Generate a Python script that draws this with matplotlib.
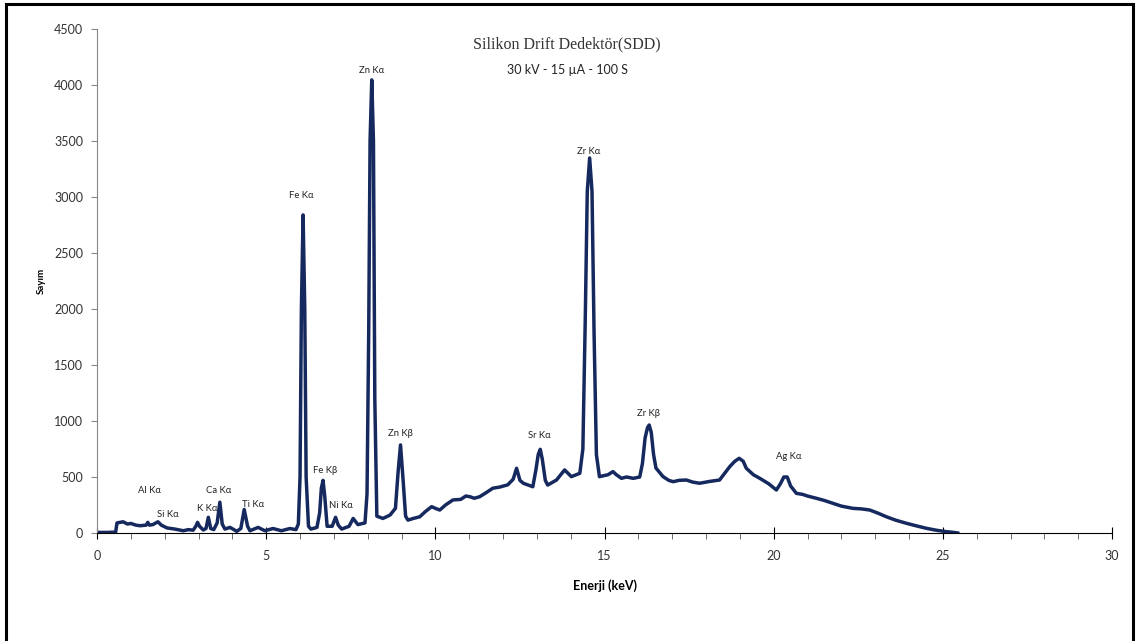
import matplotlib.pyplot as plt
from matplotlib.patches import Rectangle
from matplotlib.ticker import MultipleLocator

# spectrum: energy (keV) and counts, ten values per row
energy = [0.0, 0.3, 0.55, 0.59, 0.77, 0.9, 1.0, 1.15, 1.27, 1.45,
          1.5, 1.55, 1.65, 1.8, 1.9, 2.07, 2.3, 2.55, 2.7, 2.84,
          2.92, 2.97, 3.03, 3.14, 3.22, 3.29, 3.36, 3.45, 3.55, 3.63,
          3.7, 3.78, 3.93, 4.13, 4.25, 4.35, 4.45, 4.52, 4.76, 4.96,
          5.2, 5.45, 5.7, 5.88, 5.95, 6.0, 6.04, 6.09, 6.14, 6.18,
          6.25, 6.32, 6.5, 6.58, 6.63, 6.68, 6.73, 6.8, 6.95, 7.05,
          7.13, 7.23, 7.45, 7.57, 7.71, 7.92, 7.98, 8.03, 8.07, 8.12,
          8.17, 8.21, 8.27, 8.45, 8.66, 8.82, 8.9, 8.97, 9.04, 9.12,
          9.19, 9.35, 9.54, 9.7, 9.89, 10.0, 10.13, 10.3, 10.52, 10.75,
          10.9, 11.02, 11.15, 11.31, 11.5, 11.7, 11.9, 12.14, 12.3, 12.4,
          12.5, 12.6, 12.88, 12.97, 13.04, 13.1, 13.16, 13.25, 13.32, 13.58,
          13.82, 14.02, 14.27, 14.36, 14.43, 14.49, 14.56, 14.63, 14.69, 14.76,
          14.85, 14.95, 15.1, 15.25, 15.35, 15.5, 15.65, 15.85, 16.04, 16.12,
          16.2, 16.27, 16.32, 16.38, 16.45, 16.52, 16.73, 16.9, 17.03, 17.2,
          17.42, 17.6, 17.81, 18.1, 18.4, 18.7, 18.85, 18.98, 19.1, 19.19,
          19.4, 19.59, 19.85, 20.08, 20.2, 20.3, 20.4, 20.5, 20.67, 20.85,
          21.0, 21.26, 21.5, 21.75, 22.0, 22.34, 22.6, 22.84, 23.1, 23.33,
          23.6, 23.92, 24.2, 24.51, 24.8, 25.1, 25.3, 25.44]
counts = [5, 5, 8, 90, 100, 80, 85, 70, 65, 70,
          95, 70, 75, 100, 70, 45, 35, 20, 30, 25,
          60, 95, 60, 27, 40, 140, 40, 30, 90, 275,
          80, 35, 50, 15, 40, 210, 60, 20, 50, 20,
          40, 20, 40, 30, 80, 500, 2000, 2840, 2000, 500,
          60, 35, 50, 180, 400, 470, 330, 60, 60, 140,
          70, 35, 60, 130, 75, 90, 350, 1800, 3500, 4045,
          3500, 1200, 150, 130, 160, 220, 550, 786, 500, 150,
          115, 130, 145, 190, 235, 220, 205, 250, 295, 300,
          330, 324, 310, 324, 360, 400, 410, 430, 480, 578,
          470, 444, 413, 560, 700, 747, 660, 470, 428, 473,
          563, 503, 533, 750, 1900, 3050, 3348, 3050, 1800, 700,
          503, 510, 520, 548, 520, 488, 500, 488, 500, 620,
          850, 940, 964, 900, 700, 580, 503, 470, 458, 470,
          473, 455, 444, 460, 473, 592, 640, 667, 640, 578,
          520, 488, 440, 384, 440, 500, 500, 420, 354, 345,
          330, 310, 290, 265, 240, 220, 215, 205, 175, 145,
          115, 87, 65, 42, 25, 12, 6, 0]

peak_labels = ['Al K\u03b1', 'Si K\u03b1', 'K K\u03b1', 'Ca K\u03b1', 'Ti K\u03b1', 'Fe K\u03b1',
               'Fe K\u03b2', 'Ni K\u03b1', 'Zn K\u03b1', 'Zn K\u03b2', 'Sr K\u03b1', 'Zr K\u03b1',
               'Zr K\u03b2', 'Ag K\u03b1']
label_x = [1.54, 2.1, 3.25, 3.6, 4.6, 6.05, 6.75, 7.2, 8.12, 8.98, 13.06, 14.53, 16.3, 20.44]
label_y = [340, 125, 180, 340, 215, 2970, 520, 205, 4090, 850, 830, 3370, 1030, 643]

fig = plt.figure(figsize=(11.39, 6.41), dpi=100)
ax = fig.add_axes([0.0852, 0.1685, 0.8911, 0.7863])

ax.plot(energy, counts, color='#16295f', lw=2.5, solid_joinstyle='round')

for lab, x, y in zip(peak_labels, label_x, label_y):
    ax.text(x, y, lab, ha='center', va='bottom', fontsize=6.8, family='Lato', color='#222222')

ax.set_xlim(0, 30)
ax.set_ylim(0, 4500)
ax.xaxis.set_major_locator(MultipleLocator(5))
ax.xaxis.set_minor_locator(MultipleLocator(1))
ax.yaxis.set_major_locator(MultipleLocator(500))

ax.spines['top'].set_visible(False)
ax.spines['right'].set_visible(False)
ax.spines['left'].set_color('#888888')
ax.spines['bottom'].set_color('black')
ax.tick_params(axis='y', direction='out', length=4, color='#888888', labelsize=9, pad=6)
ax.tick_params(axis='x', which='major', direction='inout', length=9, color='black',
               labelsize=9, pad=8)
ax.tick_params(axis='x', which='minor', direction='out', length=4, color='#555555')
for t in ax.get_xticklabels() + ax.get_yticklabels():
    t.set_family('Lato')
    t.set_color('#333333')

ax.set_xlabel('Enerji (keV)', fontsize=9, fontweight='bold', family='Lato', labelpad=12)
ax.set_ylabel('Sayım', fontsize=7, fontweight='bold', family='Lato', labelpad=6)

fig.text(0.498, 0.93, 'Silikon Drift Dedektör(SDD)', ha='center', va='center',
         fontsize=11.5, family='Liberation Serif', color='#333333')
fig.text(0.498, 0.891, '30 kV - 15 \u00b5A - 100 S', ha='center', va='center',
         fontsize=9, family='Lato', color='#222222')

fig.add_artist(Rectangle((6 / 1139, -0.1), 1127 / 1139, 1.1 - 4 / 641,
                         transform=fig.transFigure, fill=False, lw=2.2, ec='black'))

fig.savefig('out.png', dpi=100)
